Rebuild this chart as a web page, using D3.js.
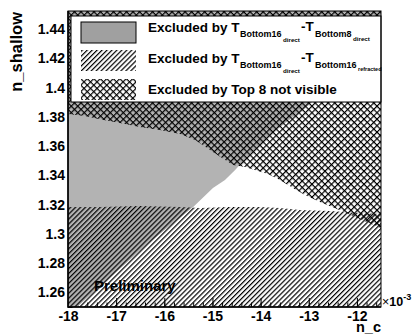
<!DOCTYPE html>
<html><head><meta charset="utf-8">
<script src="https://cdn.jsdelivr.net/npm/d3@7"></script>
<style>
html,body{margin:0;padding:0;background:#fff;}
svg{display:block;font-family:"Liberation Sans",Arial,Helvetica,sans-serif;font-weight:bold;}
</style></head><body>
<svg id="chart" width="417" height="335"></svg>
<script>
// Axis ranges and tick labels (x in units of 10^-3)
const xDomain = [-18, -11.5];
const yDomain = [1.25, 1.4523];
const xTicks = [-18, -17, -16, -15, -14, -13, -12];
const yTicks = [1.26, 1.28, 1.3, 1.32, 1.34, 1.36, 1.38, 1.4, 1.42, 1.44];

// Edge of the region excluded by T_Bottom16direct - T_Bottom8direct (excluded to the upper left)
const grayEdgeX = [-17.81, -16.30, -15.40, -14.99, -14.74, -14.53, -14.28, -13.74, -13.18, -12.77, -11.50];
const grayEdgeY = [1.2500, 1.2944, 1.3183, 1.3313, 1.3368, 1.3436, 1.3525, 1.3696, 1.3832, 1.3942, 1.4311];

// Lower edge of the region excluded by "Top 8 not visible" (excluded above)
const topEdgeX = [-18.00, -17.65, -17.34, -16.92, -16.51, -16.09, -15.67, -15.36, -15.05, -14.80, -14.57,
                  -14.32, -14.12, -13.85, -13.60, -13.33, -13.08, -12.77, -12.35, -11.94, -11.50];
const topEdgeY = [1.3819, 1.3805, 1.3784, 1.3757, 1.3730, 1.3709, 1.3682, 1.3641, 1.3573, 1.3518, 1.3470,
                  1.3456, 1.3436, 1.3409, 1.3368, 1.3313, 1.3265, 1.3217, 1.3162, 1.3101, 1.3040];

// Upper edge of the region excluded by T_Bottom16direct - T_Bottom16refracted (excluded below)
const refrEdgeX = [-18.00, -17.34, -16.51, -15.67, -15.26, -14.64, -14.01, -13.60, -13.18, -12.56, -11.94, -11.50];
const refrEdgeY = [1.3183, 1.3183, 1.3190, 1.3183, 1.3176, 1.3183, 1.3183, 1.3176, 1.3163, 1.3156, 1.3142, 1.3135];

const margin = {left: 68, right: 36, top: 11, bottom: 28};
const W = 417, H = 335;
const pw = W - margin.left - margin.right, ph = H - margin.top - margin.bottom;

const svg = d3.select("#chart");
const x = d3.scaleLinear().domain(xDomain).range([0, pw]);
const y = d3.scaleLinear().domain(yDomain).range([ph, 0]);

const defs = svg.append("defs");
defs.append("clipPath").attr("id", "plotClip")
  .append("rect").attr("width", pw).attr("height", ph);

// single diagonal hatch
const hs = 3.5;
const hatch = defs.append("pattern").attr("id", "hatch")
  .attr("patternUnits", "userSpaceOnUse").attr("width", hs).attr("height", 10)
  .attr("patternTransform", "rotate(45)");
hatch.append("line").attr("x1", 0.6).attr("y1", 0).attr("x2", 0.6).attr("y2", 10)
  .attr("stroke", "#000").attr("stroke-width", 1.2);

// cross hatch
const cs = 4.6;
const cross = defs.append("pattern").attr("id", "cross")
  .attr("patternUnits", "userSpaceOnUse").attr("width", cs).attr("height", cs)
  .attr("patternTransform", "rotate(45)");
cross.append("line").attr("x1", 0.6).attr("y1", 0).attr("x2", 0.6).attr("y2", cs)
  .attr("stroke", "#000").attr("stroke-width", 1.2);
cross.append("line").attr("x1", 0).attr("y1", 0.6).attr("x2", cs).attr("y2", 0.6)
  .attr("stroke", "#000").attr("stroke-width", 1.2);

const g = svg.append("g").attr("transform", `translate(${margin.left},${margin.top})`);

// axes (ticks inward, drawn beneath the excluded regions)
const xMinor = d3.range(-18, -11.5 + 1e-9, 0.2).map(v => +v.toFixed(1));
const yMinor = d3.range(1.25, 1.4523, 0.004).map(v => +v.toFixed(3));
const labelStyle = a => a.selectAll("text").attr("font-size", 14).attr("font-weight", "bold")
  .attr("font-family", "'Liberation Sans', Arial, sans-serif").attr("fill", "#000");

g.append("g").attr("transform", `translate(0,${ph})`)
  .call(d3.axisBottom(x).tickValues(xMinor).tickSize(-4.5).tickFormat(""))
  .call(a => a.select(".domain").remove());
g.append("g").attr("transform", `translate(0,${ph})`)
  .call(d3.axisBottom(x).tickValues(xTicks).tickSize(-9).tickPadding(4).tickFormat(d => String(d)))
  .call(a => a.select(".domain").remove())
  .call(labelStyle);

g.append("g")
  .call(d3.axisLeft(y).tickValues(yMinor).tickSize(-4.5).tickFormat(""))
  .call(a => a.select(".domain").remove());
g.append("g")
  .call(d3.axisLeft(y).tickValues(yTicks).tickSize(-9).tickPadding(3).tickFormat(d => String(d)))
  .call(a => a.select(".domain").remove())
  .call(labelStyle);

const line = d3.line().x(d => x(d[0])).y(d => y(d[1]));
const zip = (xs, ys) => xs.map((v, i) => [v, ys[i]]);

const regions = g.append("g").attr("clip-path", "url(#plotClip)");

// excluded by T_Bottom16direct - T_Bottom8direct
const grayPoly = zip(grayEdgeX, grayEdgeY)
  .concat([[xDomain[1], yDomain[1]], [xDomain[0], yDomain[1]], [xDomain[0], yDomain[0]]]);
regions.append("path").attr("d", line(grayPoly) + "Z").attr("fill", "#b3b3b3");

// excluded by T_Bottom16direct - T_Bottom16refracted
const refrPoly = zip(refrEdgeX, refrEdgeY)
  .concat([[xDomain[1], yDomain[0]], [xDomain[0], yDomain[0]]]);
regions.append("path").attr("d", line(refrPoly) + "Z").attr("fill", "url(#hatch)");

// excluded by Top 8 not visible
const topPoly = zip(topEdgeX, topEdgeY)
  .concat([[xDomain[1], yDomain[1]], [xDomain[0], yDomain[1]]]);
regions.append("path").attr("d", line(topPoly) + "Z").attr("fill", "url(#cross)");

// "Preliminary"
g.append("text").attr("x", 26).attr("y", 280).attr("font-size", 15).text("Preliminary");

// legend
const leg = g.append("g").attr("transform", "translate(3,5)");
leg.append("rect").attr("width", pw - 3).attr("height", 86)
  .attr("fill", "#fff").attr("stroke", "#000").attr("stroke-width", 1);

const swatchFill = ["#a0a0a0", "url(#hatch)", "url(#cross)"];
const swatchStroke = ["#000", "none", "none"];
const legendRows = [6, 34, 63];
legendRows.forEach((ry, i) => {
  leg.append("rect").attr("x", 10).attr("y", ry).attr("width", 55).attr("height", 21)
    .attr("fill", swatchFill[i]).attr("stroke", swatchStroke[i]).attr("stroke-width", 1);
});

// legend texts: [text, x, baseline, size]
const legendPieces = [
  ["Excluded by T", 77, 16, 13.5], ["Bottom16", 169, 21, 9], ["direct", 212, 26, 6.2],
  ["-T", 230, 15, 13.5], ["Bottom8", 244, 21, 9], ["direct", 282, 25, 6.2],
  ["Excluded by T", 77, 47, 13.5], ["Bottom16", 169, 52, 9], ["direct", 212, 57, 6.2],
  ["-T", 230, 46, 13.5], ["Bottom16", 244, 52, 9], ["refracted", 287, 55, 5.5],
  ["Excluded by Top 8 not visible", 77, 77.5, 13.5]
];
leg.selectAll("text.leg").data(legendPieces).join("text").attr("class", "leg")
  .attr("x", d => d[1]).attr("y", d => d[2]).attr("font-size", d => d[3]).text(d => d[0]);

// frame
g.append("rect").attr("width", pw).attr("height", ph)
  .attr("fill", "none").attr("stroke", "#000").attr("stroke-width", 1);
g.append("path").attr("d", `M0,0V${ph}H${pw}`).attr("fill", "none")
  .attr("stroke", "#000").attr("stroke-width", 1.5);

// axis titles
svg.append("text").attr("transform", "translate(22,12) rotate(-90)")
  .attr("text-anchor", "end").attr("font-size", 16.5).text("n_shallow");
svg.append("text").attr("x", 381).attr("y", 331.5).attr("text-anchor", "end")
  .attr("font-size", 14.5).text("n_c");
const mult = svg.append("text").attr("x", 382).attr("y", 306).attr("font-size", 12.5);
mult.append("tspan").attr("font-weight", "normal").text("\u00d7");
mult.append("tspan").text("10");
mult.append("tspan").attr("dy", -6).attr("font-size", 9).text("-3");
</script>
</body></html>
